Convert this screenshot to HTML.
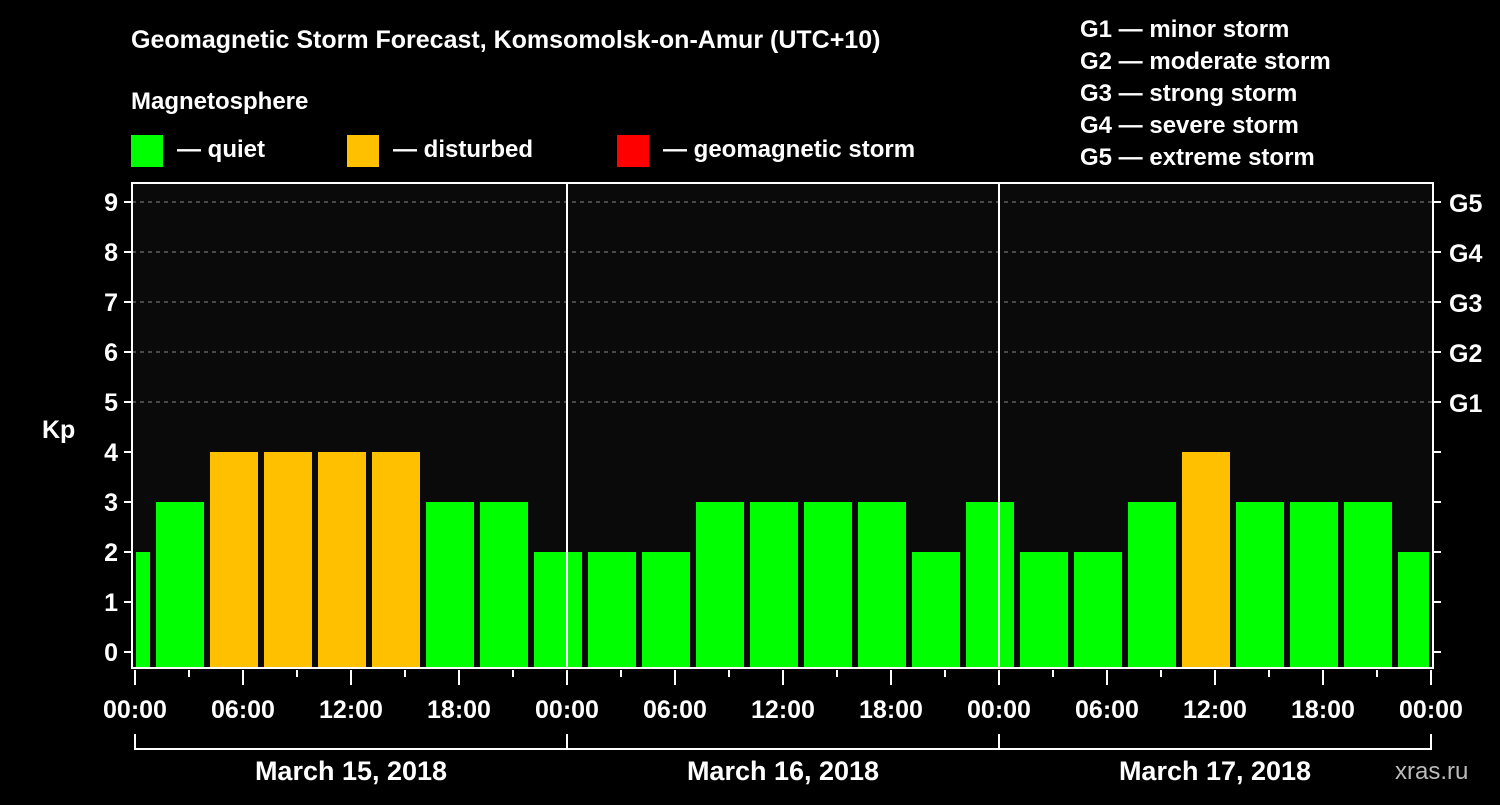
<!DOCTYPE html>
<html><head><meta charset="utf-8"><style>
body{margin:0;background:#000;width:1500px;height:800px;overflow:hidden;font-family:"Liberation Sans",sans-serif}
svg text{font-family:"Liberation Sans",sans-serif;font-weight:bold;fill:#fff}
</style></head><body>
<svg id="c" width="1500" height="800">
<rect x="132" y="183" width="1301" height="485" fill="#0a0a0a"/>
<text x="131" y="48" font-size="25">Geomagnetic Storm Forecast, Komsomolsk-on-Amur (UTC+10)</text>
<text x="131" y="109" font-size="24">Magnetosphere</text>
<g><rect x="131" y="135" width="32" height="32" fill="#00ff00"/><text x="177" y="157" font-size="24">— quiet</text></g>
<g><rect x="347" y="135" width="32" height="32" fill="#ffc000"/><text x="393" y="157" font-size="24">— disturbed</text></g>
<g><rect x="617" y="135" width="32" height="32" fill="#ff0000"/><text x="663" y="157" font-size="24">— geomagnetic storm</text></g>
<g font-size="24">
<text x="1080" y="37">G1 — minor storm</text><text x="1080" y="69">G2 — moderate storm</text><text x="1080" y="101">G3 — strong storm</text><text x="1080" y="133">G4 — severe storm</text><text x="1080" y="165">G5 — extreme storm</text></g>
<text x="42" y="438" font-size="25">Kp</text>
<text x="1395" y="779" font-size="24" fill="#bbb" style="fill:#bbb;font-weight:normal">xras.ru</text>
<g id="grid"></g><g id="bars"></g><g id="axes"></g>
</svg>
<script>
const kpValues=[2,3,4,4,4,4,3,3,2,2,2,3,3,3,3,2,3,2,2,3,4,3,3,3,2];
const barStartHours=[-2,1,4,7,10,13,16,19,22,25,28,31,34,37,40,43,46,49,52,55,58,61,64,67,70];
const yTicks=[0,1,2,3,4,5,6,7,8,9];
const gLabels=["G1","G2","G3","G4","G5"];
const gLevels=[5,6,7,8,9];
const xTickLabels=["00:00","06:00","12:00","18:00","00:00","06:00","12:00","18:00","00:00","06:00","12:00","18:00","00:00"];
const dayLabels=["March 15, 2018","March 16, 2018","March 17, 2018"];
const NS="http://www.w3.org/2000/svg";
const X=h=>135+18*h, Y=v=>652-50*v, L=132,R=1433,T=183,B=668;
function mk(t,a,p,txt){const e=document.createElementNS(NS,t);for(const k in a)e.setAttribute(k,a[k]);if(txt!==undefined)e.textContent=txt;p.appendChild(e);return e;}
const grid=document.getElementById('grid'),bars=document.getElementById('bars'),axes=document.getElementById('axes');
gLevels.forEach((g,i)=>{
 const l=mk('line',{x1:L,x2:R,y1:Y(g),y2:Y(g),stroke:'#888','stroke-dasharray':'4,4','stroke-width':1},grid);
 
 
 const t=mk('text',{x:1449,y:Y(g)+10,'font-size':25},axes,gLabels[i]);
 
 
});
kpValues.forEach((v,i)=>{
 let x0=Math.max(X(barStartHours[i])+3,L+4),x1=Math.min(X(barStartHours[i]+3)-3,R-4);
 const col=v>=5?'#ff0000':v>=4?'#ffc000':'#00ff00';
 const r=mk('rect',{x:x0,y:Y(v),width:x1-x0,height:B-Y(v),fill:col},bars);
 
 
});
[24,48].forEach(h=>{const l=mk('line',{x1:X(h),x2:X(h),y1:T,y2:B,stroke:'#fff','stroke-width':2},axes);
 
 });
const fr=mk('rect',{x:L,y:T,width:R-L,height:B-T,fill:'none',stroke:'#fff','stroke-width':2},axes);


yTicks.forEach(v=>{
 mk('line',{x1:L-8,x2:L,y1:Y(v),y2:Y(v),stroke:'#fff','stroke-width':2},axes);
 mk('line',{x1:R,x2:R+8,y1:Y(v),y2:Y(v),stroke:'#fff','stroke-width':2},axes);
 const t=mk('text',{x:L-14,y:Y(v)+9,'font-size':25,'text-anchor':'end'},axes,String(v));
 
 
});
for(let h=0;h<=72;h+=3){mk('line',{x1:X(h),x2:X(h),y1:B+2,y2:B+(h%6?9:17),stroke:'#fff','stroke-width':2},axes);}
xTickLabels.forEach((s,i)=>{const t=mk('text',{x:X(i*6),y:718,'font-size':25,'text-anchor':'middle'},axes,s);
 
 });
mk('path',{d:`M${X(0)},734V749H${X(72)}V734M${X(24)},734V749M${X(48)},734V749`,stroke:'#fff','stroke-width':2,fill:'none'},axes);
dayLabels.forEach((s,i)=>{const t=mk('text',{x:X(24*i+12),y:780,'font-size':27,'text-anchor':'middle'},axes,s);
 
 });
</script>
</body></html>
